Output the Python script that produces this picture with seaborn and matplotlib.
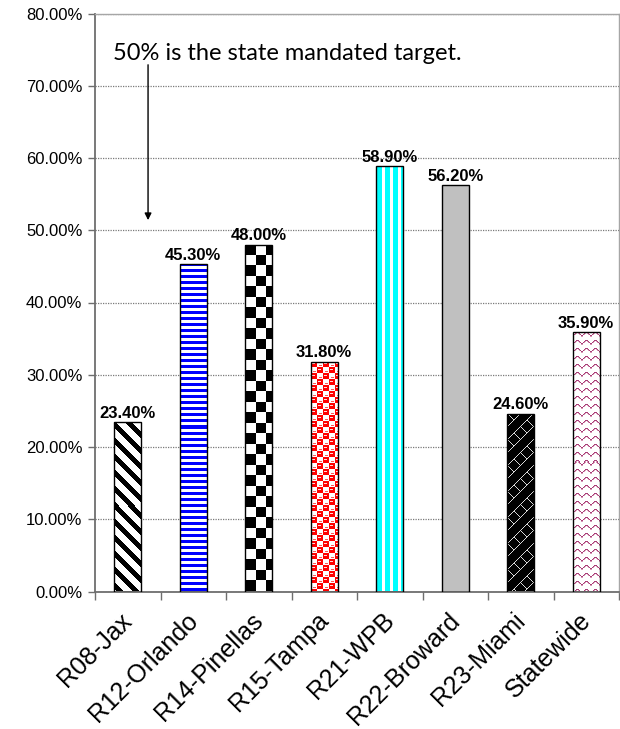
import numpy as np
import pandas as pd
import matplotlib
matplotlib.use("Agg")
import matplotlib.pyplot as plt
import seaborn as sns
from matplotlib.ticker import FuncFormatter
from matplotlib.transforms import ScaledTranslation

# ---- data ----
regions = ["R08-Jax", "R12-Orlando", "R14-Pinellas", "R15-Tampa",
           "R21-WPB", "R22-Broward", "R23-Miami", "Statewide"]
rates = [23.4, 45.3, 48.0, 31.8, 58.9, 56.2, 24.6, 35.9]
fills = ["diagonal", "hstripe", "checker", "sphere",
         "vstripe", "solid", "trellis", "wave"]
y_ticks = [0, 10, 20, 30, 40, 50, 60, 70, 80]
note_text = "50% is the state mandated target."
target = 50


def texture(kind, h, w):
    """RGB fill pattern for one bar, h x w pixels."""
    i, j = np.mgrid[0:h, 0:w]
    img = np.ones((h, w, 3))
    if kind == "diagonal":
        m = ((i - j) % 16) < 7
        img[m] = (0, 0, 0)
    elif kind == "hstripe":
        m = (i % 6) < 3
        img[m] = (0, 0, 1)
    elif kind == "checker":
        m = ((i // 10.5).astype(int) + (j // 10.5).astype(int)) % 2 == 0
        img[m] = (0, 0, 0)
    elif kind == "sphere":
        m = ((i // 6) + (j // 6)) % 2 == 0
        img[m] = (1, 0, 0)
        ii, jj = i % 6, j % 6
        dot = m & (ii == 2) & (jj >= 1) & (jj <= 3)
        img[dot] = (1, 0.85, 0.85)
        ring = (~m) & (ii == 4) & (jj >= 2) & (jj <= 4)
        img[ring] = (1, 0.35, 0.35)
    elif kind == "vstripe":
        m = ((j % 8) >= 1) & ((j % 8) <= 5)
        img[m] = (0, 1, 1)
    elif kind == "solid":
        img[:] = (0.753, 0.753, 0.753)
    elif kind == "trellis":
        img[:] = (0, 0, 0)
        long_d = ((i + j) % 13) == 0
        short_d = (((i - j) % 13) == 0) & (((i + j) // 13) % 2 == 0)
        img[long_d | short_d] = (0.85, 0.85, 0.85)
    elif kind == "wave":
        jj = j % 9
        crest = np.round(1 + 3.5 * (1 - np.sin(np.pi * (jj + 0.5) / 9))).astype(int)
        m = (i % 8) == crest
        img[m] = (0.66, 0.24, 0.47)
        m2 = ((i % 8) == crest + 1) & ((jj % 3) != 1)
        img[m2] = (0.85, 0.6, 0.72)
    return img


sns.set_theme(style="ticks")
plt.rcParams["font.family"] = ["Liberation Sans", "DejaVu Sans"]
plt.rcParams["text.color"] = "black"

fig = plt.figure(figsize=(6.2, 7.29), dpi=100)
ax = fig.add_axes([95 / 620, 1 - 591.5 / 729, 524 / 620, 578 / 729])

df = pd.DataFrame({"region": regions, "rate": rates})
sns.barplot(data=df, x="region", y="rate", color="white", saturation=1,
            width=0.41, edgecolor="black", linewidth=1.0, ax=ax, zorder=3)

ax.set_xlim(-0.5, len(regions) - 0.5)
ax.set_ylim(y_ticks[0], y_ticks[-1])

# patterned fills clipped to each bar
for patch, kind in zip(ax.patches, fills):
    bb = patch.get_bbox()
    p0 = ax.transData.transform((bb.x0, bb.y0))
    p1 = ax.transData.transform((bb.x1, bb.y1))
    wpx = max(1, int(round(p1[0] - p0[0])))
    hpx = max(1, int(round(p1[1] - p0[1])))
    im = ax.imshow(texture(kind, hpx, wpx), extent=(bb.x0, bb.x1, bb.y0, bb.y1),
                   origin="upper", aspect="auto", interpolation="nearest",
                   zorder=3.1)
    im.set_clip_path(patch)
    patch.set_facecolor("none")
    patch.set_zorder(3.2)

ax.set_xlim(-0.5, len(regions) - 0.5)
ax.set_ylim(y_ticks[0], y_ticks[-1])

# value labels
ax.bar_label(ax.containers[0], labels=[f"{v:.2f}%" for v in rates],
             padding=1, fontsize=12, fontweight="bold", color="black", zorder=5)

# axes styling
ax.set_xlabel("")
ax.set_ylabel("")
ax.set_yticks(y_ticks)
ax.yaxis.set_major_formatter(FuncFormatter(lambda v, p: f"{v:.2f}%"))
ax.yaxis.grid(True, linestyle=(0, (1, 1)), color="#7a7a7a", linewidth=0.9)
ax.set_axisbelow(True)

for side in ("left", "bottom"):
    ax.spines[side].set_color("#6e6e6e")
    ax.spines[side].set_linewidth(1.3)
for side in ("top", "right"):
    ax.spines[side].set_visible(True)
    ax.spines[side].set_color("#a6a6a6")
    ax.spines[side].set_linewidth(1.0)

ax.tick_params(axis="y", length=5, width=1, color="#6e6e6e", pad=4,
               labelsize=12, labelcolor="black")
ax.set_xticks(np.arange(-0.5, len(regions), 1.0), minor=True)
ax.tick_params(axis="x", which="minor", length=6, width=1, color="#6e6e6e")
ax.tick_params(axis="x", which="major", length=0, pad=12,
               labelsize=18, labelcolor="black")
shift = ScaledTranslation(-0.08, 0, fig.dpi_scale_trans)
for lbl in ax.get_xticklabels():
    lbl.set_rotation(45)
    lbl.set_ha("right")
    lbl.set_rotation_mode("anchor")
    lbl.set_transform(lbl.get_transform() + shift)

# target note with arrow
ax.annotate("", xy=(0.31, target + 1.4), xytext=(0.31, 72.9),
            arrowprops=dict(arrowstyle="-|>", color="black", lw=1.0,
                            mutation_scale=10, shrinkA=0, shrinkB=0),
            zorder=6)
ax.text(-0.225, 73.6, note_text, fontfamily=["Lato", "DejaVu Sans"],
        fontsize=17, va="baseline", ha="left", color="black", zorder=6)

fig.savefig("out.png", dpi=100)
